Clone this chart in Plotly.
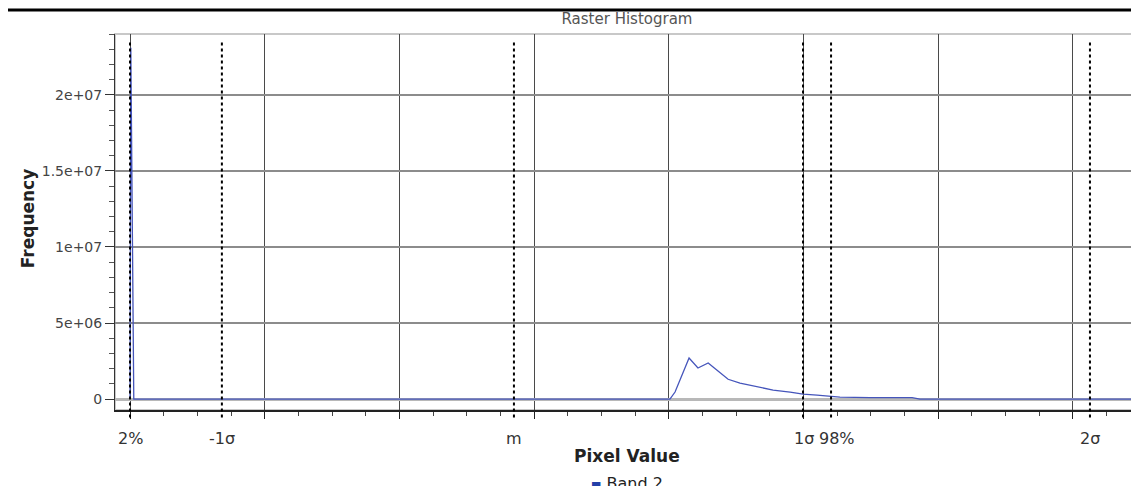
import plotly.graph_objects as go

# Band 2 histogram
pixel_value = [0, 3, 14, 2004, 2023, 2075, 2108, 2146, 2179, 2220, 2264, 2327,
               2387, 2450, 2498, 2550, 2635, 2747, 2903, 2932, 3745]
frequency = [0, 2.31e7, 0, 0, 0.46e6, 2.7e6, 2.04e6, 2.37e6, 1.9e6, 1.3e6,
             1.05e6, 0.79e6, 0.59e6, 0.46e6, 0.33e6, 0.26e6, 0.13e6, 0.1e6,
             0.1e6, 0, 0]

# statistics markers (percent clip / std dev / mean)
marker_labels = ["2%", "-1σ", "m", "1σ", "98%", "2σ"]
marker_values = [0, 341, 1425, 2498, 2602, 3563]

y_tickvals = [0, 5e6, 1e7, 1.5e7, 2e7]
y_ticktext = ["0", "5e+06", "1e+07", "1.5e+07", "2e+07"]

FONT = "DejaVu Sans"
# page body has an 8px margin, so the figure is 8px smaller each way
W, H = 1131, 478
# nudge labels that would collide
label_shift = {"1σ": 1, "98%": 6}

fig = go.Figure()
fig.add_trace(go.Scatter(
    x=pixel_value,
    y=frequency,
    mode="lines",
    line=dict(color="#4555bb", width=1.3),
    name="Band 2",
    showlegend=False,
))

# dotted marker lines + their labels under the axis
for label, val in zip(marker_labels, marker_values):
    fig.add_shape(type="line", xref="x", yref="paper",
                  x0=val, x1=val, y0=-0.02, y1=0.985,
                  line=dict(color="black", width=2, dash="dot"))
    fig.add_annotation(x=val, xref="x", y=-0.0745, yref="paper",
                       text=label, showarrow=False, yanchor="middle",
                       xshift=label_shift.get(label, 0),
                       font=dict(family=FONT, size=16, color="#333"))

# canvas frame
fig.add_shape(type="rect", xref="paper", yref="paper",
              x0=0, x1=1.01, y0=0, y1=1, layer="below",
              line=dict(color="#c8c8c8", width=2))

# outer black frame of the screenshot
fig.add_shape(type="line", xref="paper", yref="paper",
              x0=-0.1065, x1=-0.1065, y0=-0.25, y1=1.064,
              line=dict(color="black", width=3))
fig.add_shape(type="line", xref="paper", yref="paper",
              x0=-0.1065, x1=1.01, y0=1.064, y1=1.064,
              line=dict(color="black", width=3))

# axis titles
fig.add_annotation(x=0.5, xref="paper", y=-0.122, yref="paper",
                   text="<b>Pixel Value</b>", showarrow=False,
                   yanchor="middle",
                   font=dict(family=FONT, size=17, color="#222"))
fig.add_annotation(x=-0.0967, xref="paper", y=0.51, yref="paper",
                   text="<b>Frequency</b>", textangle=-90, showarrow=False,
                   font=dict(family=FONT, size=17, color="#222"))

# legend entry (cut off at the bottom edge)
fig.add_annotation(x=0.5, xref="paper", y=-0.196, yref="paper",
                   yanchor="middle",
                   text="<span style='color:#2340a8;font-size:11px'>■</span> Band 2",
                   showarrow=False,
                   font=dict(family=FONT, size=16, color="#222"))

fig.update_xaxes(
    range=[-55.7, 3745],
    dtick=500, tick0=0,
    showticklabels=False,
    showgrid=True, gridcolor="#4a4a4a", gridwidth=1,
    zeroline=False,
    showline=True, linecolor="#222", linewidth=1.5,
    ticks="outside", ticklen=7, tickcolor="#222",
    minor=dict(dtick=125, ticks="outside", ticklen=4, tickcolor="#444",
               showgrid=False),
)
fig.update_yaxes(
    range=[-7.2e5, 2.4e7],
    tickvals=y_tickvals, ticktext=y_ticktext,
    tickfont=dict(family=FONT, size=14, color="#444"),
    showgrid=True, gridcolor="#8c8c8c", gridwidth=1.5,
    zeroline=True, zerolinecolor="#b8b8b8", zerolinewidth=3,
    showline=True, linecolor="#333", linewidth=1,
    ticks="outside", ticklen=9, tickcolor="#333",
    minor=dict(dtick=1e6, tick0=0, ticks="outside", ticklen=5,
               tickcolor="#555", showgrid=False),
)
fig.update_layout(
    width=W, height=H,
    margin=dict(l=107, r=0, t=26, b=76, autoexpand=False),
    paper_bgcolor="white", plot_bgcolor="white",
    title=dict(text="Raster Histogram", x=0.5, xref="paper",
               y=1 - 11 / H, yanchor="middle",
               font=dict(family=FONT, size=15, color="#555")),
    showlegend=False,
)

fig.write_html("out.html")
